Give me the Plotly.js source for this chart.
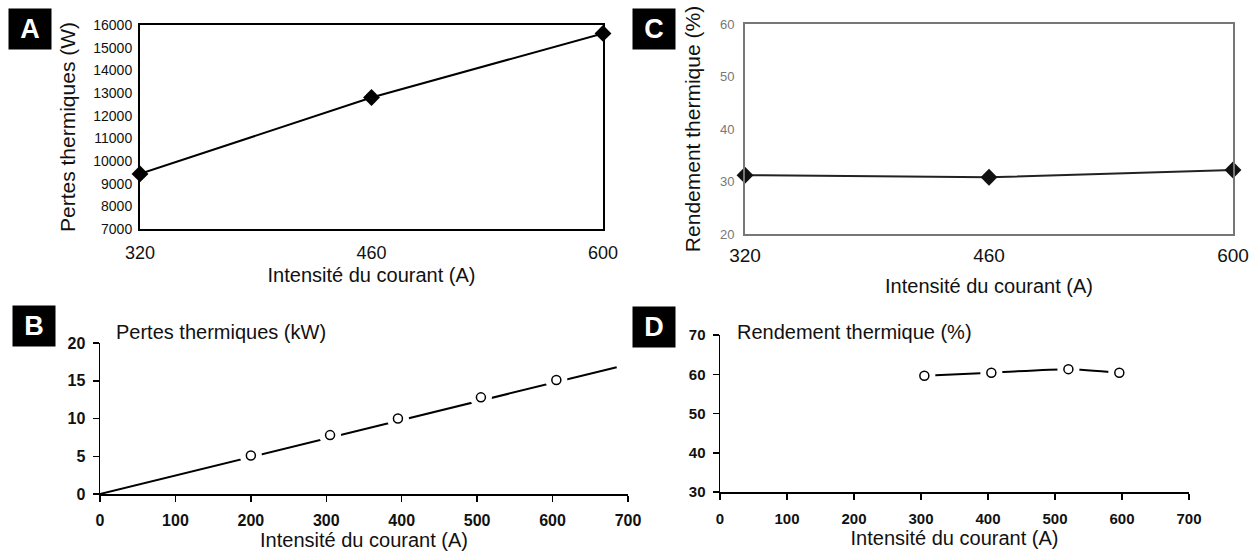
<!DOCTYPE html>
<html>
<head>
<meta charset="utf-8">
<script src="https://cdn.plot.ly/plotly-3.0.1.min.js"></script>
<style>html,body{margin:0;padding:0;background:#fff}#chart{width:1256px;height:553px}</style>
</head>
<body>
<div id="chart"></div>
<script>
// Panel A: Pertes thermiques (W) vs intensité
const aCurrent = [320, 460, 600];
const aLosses = [9430, 12800, 15630];
const aTicks = [320, 460, 600];
// Panel C: Rendement thermique (%) vs intensité
const cCurrent = [320, 460, 600];
const cEfficiency = [31.2, 30.8, 32.2];
// Panel B: Pertes thermiques (kW), measured points and fitted line
const bCurrent = [200, 305, 395, 505, 605];
const bLosses = [5.1, 7.8, 10.0, 12.8, 15.1];
const bFitCurrent = [0, 685];
const bFitLosses = [0, 16.8];
// Panel D: Rendement thermique (%)
const dCurrent = [305, 405, 520, 596];
const dEfficiency = [59.6, 60.4, 61.3, 60.4];
const bdTicks = [0, 100, 200, 300, 400, 500, 600, 700];

const W = 1256, H = 553;
const px = v => v / W;
const py = v => 1 - v / H;
const sans = 'Liberation Sans, Arial, sans-serif';
const narrow = 'Liberation Sans Narrow, Liberation Sans, Arial, sans-serif';

const traces = [
  {x: aCurrent, y: aLosses, xaxis: 'x', yaxis: 'y', mode: 'lines+markers', cliponaxis: false,
   line: {color: '#000', width: 2}, marker: {symbol: 'diamond', size: 13, color: '#000'}, showlegend: false},
  {x: cCurrent, y: cEfficiency, xaxis: 'x2', yaxis: 'y2', mode: 'lines+markers', cliponaxis: false,
   line: {color: '#222', width: 2}, marker: {symbol: 'diamond', size: 13, color: '#111'}, showlegend: false},
  {x: bFitCurrent, y: bFitLosses, xaxis: 'x3', yaxis: 'y3', mode: 'lines', cliponaxis: false,
   line: {color: '#000', width: 2}, showlegend: false},
  {x: bCurrent, y: bLosses, xaxis: 'x3', yaxis: 'y3', mode: 'markers', cliponaxis: false,
   marker: {symbol: 'circle', size: 22, color: '#fff'}, showlegend: false, hoverinfo: 'skip'},
  {x: bCurrent, y: bLosses, xaxis: 'x3', yaxis: 'y3', mode: 'markers', cliponaxis: false,
   marker: {symbol: 'circle', size: 9, color: '#fff', line: {color: '#000', width: 1.5}}, showlegend: false},
  {x: dCurrent, y: dEfficiency, xaxis: 'x4', yaxis: 'y4', mode: 'lines', cliponaxis: false,
   line: {color: '#000', width: 2, shape: 'spline', smoothing: 0.6}, showlegend: false},
  {x: dCurrent, y: dEfficiency, xaxis: 'x4', yaxis: 'y4', mode: 'markers', cliponaxis: false,
   marker: {symbol: 'circle', size: 22, color: '#fff'}, showlegend: false, hoverinfo: 'skip'},
  {x: dCurrent, y: dEfficiency, xaxis: 'x4', yaxis: 'y4', mode: 'markers', cliponaxis: false,
   marker: {symbol: 'circle', size: 9, color: '#fff', line: {color: '#000', width: 1.5}}, showlegend: false}
];

const boxAxis = (extra) => Object.assign({showgrid: false, zeroline: false, showline: true, mirror: true,
  fixedrange: true}, extra);
const openAxis = (extra) => Object.assign({showgrid: false, zeroline: false, showline: true, mirror: false,
  linecolor: '#000', linewidth: 1.5, ticks: 'outside', ticklen: 6, tickwidth: 1.5, tickcolor: '#000',
  fixedrange: true}, extra);

const letter = (t, x, y) => ({text: '<b>' + t + '</b>', xref: 'paper', yref: 'paper', x: px(x), y: py(y),
  xanchor: 'left', yanchor: 'top', showarrow: false, bgcolor: '#000', width: 42, height: 40, borderpad: 0,
  font: {family: sans, size: 27, color: '#fff'}});

const layout = {
  width: W, height: H, margin: {l: 0, r: 0, t: 0, b: 0},
  paper_bgcolor: '#fff', plot_bgcolor: '#fff', showlegend: false,
  xaxis: boxAxis({domain: [px(140), px(603)], anchor: 'y', range: [320, 600], tickvals: aTicks,
    linecolor: '#000', linewidth: 2, ticks: '', ticklabelstandoff: 6,
    tickfont: {family: sans, size: 18, color: '#111'},
    title: {text: 'Intensité du courant (A)', font: {family: sans, size: 20, color: '#111'}, standoff: 6}}),
  yaxis: boxAxis({domain: [py(229), py(25)], anchor: 'x', range: [7000, 16000], dtick: 1000,
    tickformat: 'd', linecolor: '#000', linewidth: 2, ticks: '', ticklabelstandoff: 3,
    tickfont: {family: narrow, size: 14, color: '#111'},
    title: {text: 'Pertes thermiques (W)', font: {family: sans, size: 21, color: '#111'}, standoff: 12}}),
  xaxis2: boxAxis({domain: [px(745), px(1233)], anchor: 'y2', range: [320, 600], tickvals: aTicks,
    linecolor: '#777', linewidth: 2, ticks: '', ticklabelstandoff: 3,
    tickfont: {family: sans, size: 19, color: '#111'},
    title: {text: 'Intensité du courant (A)', font: {family: sans, size: 20, color: '#111'}, standoff: 14}}),
  yaxis2: boxAxis({domain: [py(234), py(24)], anchor: 'x2', range: [20, 60], dtick: 10,
    linecolor: '#777', linewidth: 2, ticks: '', ticklabelstandoff: 6,
    tickfont: {family: sans, size: 13, color: '#777'},
    title: {text: 'Rendement thermique (%)', font: {family: sans, size: 21, color: '#111'}, standoff: 14}}),
  xaxis3: openAxis({domain: [px(100), px(628)], anchor: 'y3', range: [0, 700], tickvals: bdTicks,
    ticklabelstandoff: 5,
    tickfont: {family: sans, size: 16, color: '#111', weight: 'bold'},
    title: {text: 'Intensité du courant (A)', font: {family: sans, size: 20, color: '#111'}, standoff: 4}}),
  yaxis3: openAxis({domain: [py(494), py(343)], anchor: 'x3', range: [0, 20], dtick: 5,
    ticklabelstandoff: 4,
    tickfont: {family: sans, size: 16, color: '#111', weight: 'bold'}}),
  xaxis4: openAxis({domain: [px(720), px(1189)], anchor: 'y4', range: [0, 700], tickvals: bdTicks,
    ticklabelstandoff: 6,
    tickfont: {family: sans, size: 15, color: '#111', weight: 'bold'},
    title: {text: 'Intensité du courant (A)', font: {family: sans, size: 20, color: '#111'}, standoff: 4}}),
  yaxis4: openAxis({domain: [py(492), py(335)], anchor: 'x4', range: [30, 70], dtick: 10,
    ticklabelstandoff: 4,
    tickfont: {family: sans, size: 15, color: '#111', weight: 'bold'}}),
  annotations: [
    letter('A', 8, 8), letter('C', 632, 8), letter('B', 12, 305), letter('D', 632, 306),
    {text: 'Pertes thermiques (kW)', xref: 'paper', yref: 'paper', x: px(114), y: py(332),
     xanchor: 'left', yanchor: 'middle', showarrow: false, font: {family: sans, size: 20, color: '#111'}},
    {text: 'Rendement thermique (%)', xref: 'paper', yref: 'paper', x: px(735), y: py(332),
     xanchor: 'left', yanchor: 'middle', showarrow: false, font: {family: sans, size: 20, color: '#111'}}
  ]
};

Plotly.newPlot('chart', traces, layout, {displayModeBar: false, staticPlot: true});
</script>
</body>
</html>
